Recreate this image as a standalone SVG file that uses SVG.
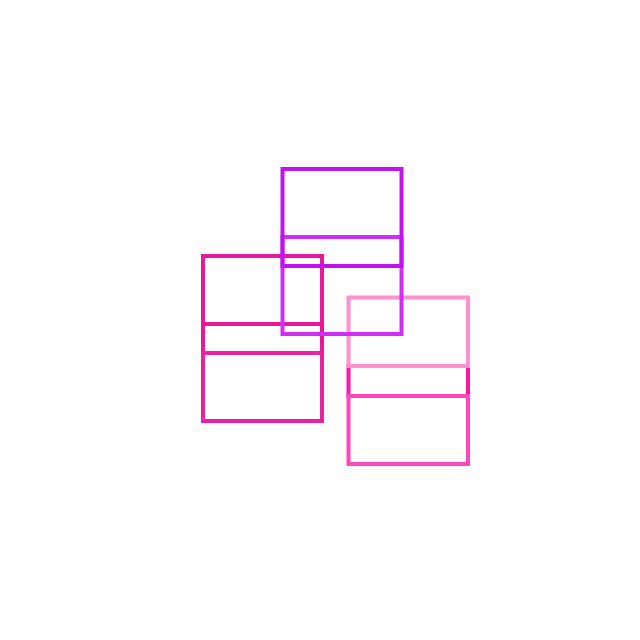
<svg xmlns="http://www.w3.org/2000/svg" width="640" height="640" viewBox="0 0 640 640">
  <style>
    rect { fill: none; stroke-width: 4; }
  </style>
  <rect width="640" height="640" fill="#ffffff" style="stroke:none"/>
  <g id="connectors"></g>
  <g id="node-b">
    <rect x="203" y="324" width="119" height="29" stroke="#e8189a"/>
    <rect x="203" y="256" width="119" height="68" stroke="#e8189a"/>
    <rect x="203" y="353" width="119" height="68" stroke="#ea22a2"/>
  </g>
  <g id="node-c">
    <rect x="348.5" y="366" width="119.5" height="30" stroke="#ff14a8"/>
    <rect x="348.5" y="297.5" width="119.5" height="68.5" stroke="#ff90d2"/>
    <rect x="348.5" y="396" width="119.5" height="68" stroke="#ff48bc"/>
  </g>
  <g id="node-a">
    <rect x="282.5" y="237" width="119" height="97" stroke="#d02ef8"/>
    <rect x="282.5" y="169" width="119" height="97" stroke="#c212f0"/>
  </g>
</svg>
